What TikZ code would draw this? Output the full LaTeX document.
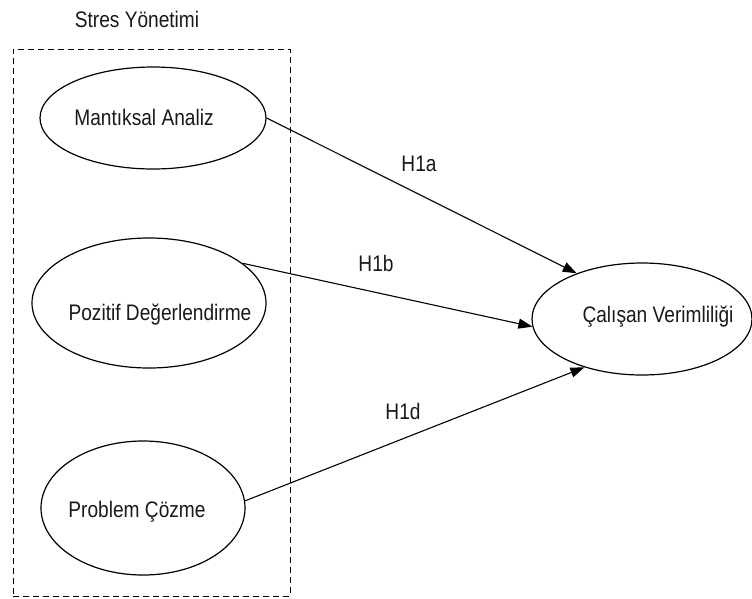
\documentclass[tikz,border=0pt]{standalone}
\usepackage{fontspec}
\setmainfont[FakeStretch=0.85]{Liberation Sans}
\usetikzlibrary{arrows.meta,shapes.geometric}
\begin{document}
\begin{tikzpicture}[x=1pt,y=-1pt,
  lbl/.style={anchor=base, inner sep=0pt, font=\fontsize{22.5}{26}\selectfont, text=black!90},
  oval/.style={draw, ellipse, line width=1.2pt, inner sep=0pt},
  link/.style={line width=1.1pt, -{Triangle[length=14pt,width=10pt]}},
  grp/.style={draw, dash pattern=on 6pt off 4pt, line width=0.9pt, inner sep=0pt}]
\useasboundingbox (0,0) rectangle (752,598);
% group box
\node[grp, minimum width=277pt, minimum height=547pt] (box) at (151.5,322.5) {};
\node[lbl] (title) at (137,27) {Stres Yönetimi};
% ellipses
\node[oval, minimum width=226pt, minimum height=102pt] (e1) at (153,118) {};
\node[oval, minimum width=234pt, minimum height=130pt] (e2) at (149,303) {};
\node[oval, minimum width=204pt, minimum height=134pt] (e3) at (143,508) {};
\node[oval, minimum width=220pt, minimum height=112pt] (e4) at (642,319) {};
% texts
\node[lbl] (t1) at (144,125) {Mantıksal Analiz};
\node[lbl] (t2) at (160,320) {Pozitif Değerlendirme};
\node[lbl] (t3) at (137,517) {Problem Çözme};
\node[lbl] (t4) at (658,322) {Çalışan Verimliliği};
% connectors
\draw[link] (e1.east) -- (e4.145);
\draw[link] (e2.23) -- (e4.184);
\draw[link] (e3.4) -- (e4.220);
\node[lbl] (h1) at (419,171) {H1a};
\node[lbl] (h2) at (376,271) {H1b};
\node[lbl] (h3) at (403,419) {H1d};
\end{tikzpicture}
\end{document}
